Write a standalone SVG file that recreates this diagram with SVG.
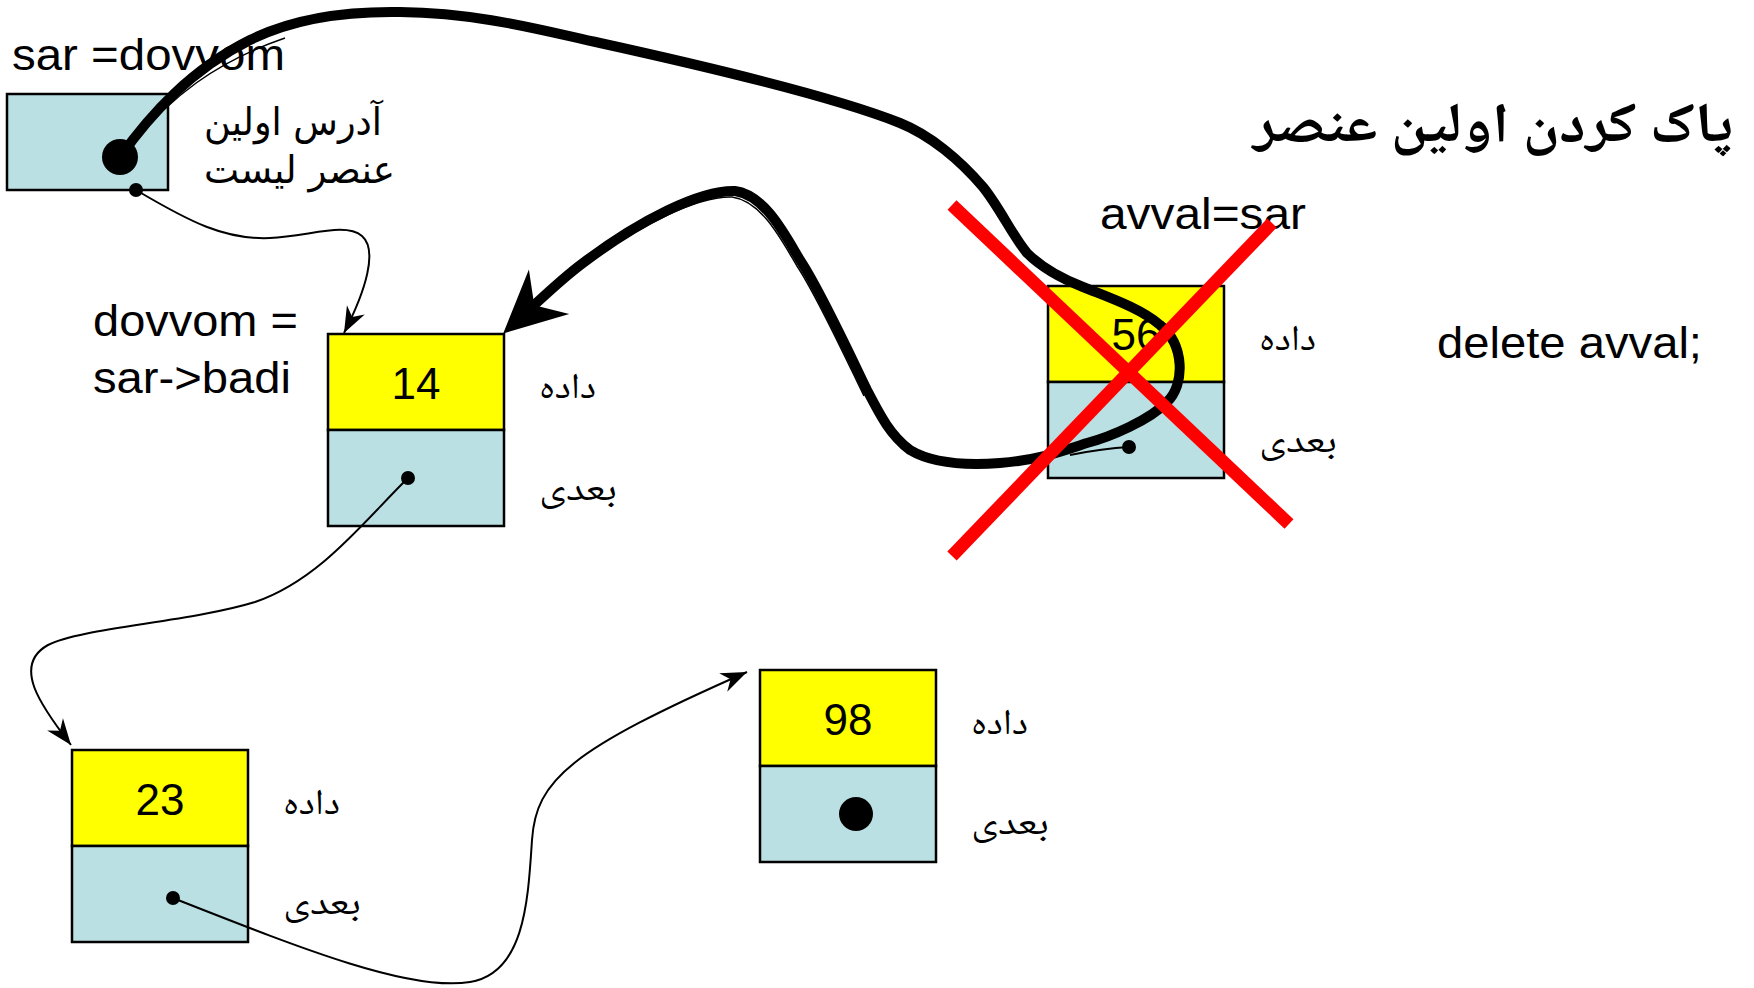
<svg xmlns="http://www.w3.org/2000/svg" width="1754" height="988" viewBox="0 0 1754 988">
<style>
.lat{font-family:"Liberation Sans",Arial,sans-serif;font-size:44px;fill:#000}
.num{font-family:"Liberation Sans",Arial,sans-serif;font-size:44px;fill:#000;text-anchor:middle}
.ar{font-family:"Noto Naskh Arabic","Noto Sans Arabic","DejaVu Sans",sans-serif;font-size:36px;fill:#000;text-anchor:end}
.arl{font-family:"DejaVu Sans",sans-serif;font-size:38px;fill:#000;text-anchor:end}
.title{font-family:"Noto Naskh Arabic","Noto Sans Arabic","DejaVu Sans",sans-serif;font-size:56px;font-weight:bold;fill:#000;text-anchor:end}
.data{fill:#FFFF00;stroke:#000;stroke-width:2.5}
.ptr{fill:#BAE0E3;stroke:#000;stroke-width:2.5}
.thin{fill:none;stroke:#000;stroke-width:2}
.hair{fill:none;stroke:#000;stroke-width:1.5}
.thick{fill:none;stroke:#000;stroke-width:10;stroke-linecap:round;stroke-linejoin:round}
.cross{stroke:#FF0000;stroke-width:13;stroke-linecap:butt}
</style>
<defs>
<marker id="ah" markerUnits="userSpaceOnUse" viewBox="-30 -15 32 30" refX="0" refY="0" markerWidth="32" markerHeight="30" orient="auto">
<path d="M0,0 L-26,-10 L-18,0 L-26,10 Z" fill="#000"/>
</marker>
<marker id="ahBig" markerUnits="userSpaceOnUse" viewBox="-60 -32 84 64" refX="0" refY="0" markerWidth="84" markerHeight="64" orient="auto">
<path d="M20,0 L-42,-30 L-22,0 L-42,30 Z" fill="#000"/>
</marker>
</defs>
<rect width="1754" height="988" fill="#fff"/>

<g id="title">
<text class="title" x="1733" y="142" textLength="480" lengthAdjust="spacingAndGlyphs">پاک کردن اولین عنصر</text>
</g>

<g id="sar">
<rect class="ptr" x="7" y="94" width="161" height="96"/>
<text class="lat" x="12" y="70" textLength="273" lengthAdjust="spacingAndGlyphs">sar =dovvom</text>
<text class="arl" x="382" y="135" textLength="178" lengthAdjust="spacingAndGlyphs">آدرس اولین</text>
<text class="arl" x="395" y="183" textLength="191" lengthAdjust="spacingAndGlyphs">عنصر لیست</text>
</g>

<g id="node14">
<rect class="data" x="328" y="334" width="176" height="96"/>
<rect class="ptr" x="328" y="430" width="176" height="96"/>
<text class="num" x="416" y="399">14</text>
<text class="ar" x="596" y="398" textLength="57" lengthAdjust="spacingAndGlyphs">داده</text>
<text class="ar" x="617" y="500" textLength="78" lengthAdjust="spacingAndGlyphs">بعدی</text>
<text class="lat" x="93" y="336" textLength="205" lengthAdjust="spacingAndGlyphs">dovvom =</text>
<text class="lat" x="93" y="393" textLength="198" lengthAdjust="spacingAndGlyphs">sar-&gt;badi</text>
</g>

<g id="node23">
<rect class="data" x="72" y="750" width="176" height="96"/>
<rect class="ptr" x="72" y="846" width="176" height="96"/>
<text class="num" x="160" y="815">23</text>
<text class="ar" x="340" y="814" textLength="57" lengthAdjust="spacingAndGlyphs">داده</text>
<text class="ar" x="361" y="914" textLength="78" lengthAdjust="spacingAndGlyphs">بعدی</text>
</g>

<g id="node98">
<rect class="data" x="760" y="670" width="176" height="96"/>
<rect class="ptr" x="760" y="766" width="176" height="96"/>
<text class="num" x="848" y="735">98</text>
<text class="ar" x="1028" y="734" textLength="57" lengthAdjust="spacingAndGlyphs">داده</text>
<text class="ar" x="1049" y="834" textLength="78" lengthAdjust="spacingAndGlyphs">بعدی</text>
<circle cx="856" cy="814" r="17" fill="#000"/>
</g>

<g id="node56">
<rect class="data" x="1048" y="286" width="176" height="96"/>
<rect class="ptr" x="1048" y="382" width="176" height="96"/>
<text class="num" x="1136" y="350">56</text>
<text class="ar" x="1316" y="350" textLength="57" lengthAdjust="spacingAndGlyphs">داده</text>
<text class="ar" x="1337" y="452" textLength="78" lengthAdjust="spacingAndGlyphs">بعدی</text>
<text class="lat" x="1100" y="229" textLength="206" lengthAdjust="spacingAndGlyphs">avval=sar</text>
</g>

<g id="code">
<text class="lat" x="1437" y="358" textLength="265" lengthAdjust="spacingAndGlyphs">delete avval;</text>
</g>

<g id="connectors">
<path class="thin" d="M136,190 C190,222 225,240 270,238 C310,236 345,222 362,236 C378,250 366,290 344,333" marker-end="url(#ah)"/>
<path class="thin" d="M408,478 C365,520 320,580 255,602 C190,622 80,628 48,645 C12,665 40,705 71,745" marker-end="url(#ah)"/>
<path class="thin" d="M173,898 C300,948 410,992 470,982 C525,973 528,900 532,840 C536,780 570,750 747,672" marker-end="url(#ah)"/>
<path class="thin" d="M1129,447 C1110,448 1090,451 1070,455"/>
<path class="hair" d="M132,144 C170,98 215,62 285,38"/>
<path class="hair" transform="translate(-3,6)" d="M867,390 C850,355 820,290 800,260 C785,235 765,195 735,191 C700,190 640,220 583,263"/>
<path class="hair" transform="translate(6,4)" d="M900,123 C930,135 960,160 983,187 C1000,208 1012,235 1027,253"/>
<circle cx="136" cy="190" r="7" fill="#000"/>
<circle cx="408" cy="478" r="7" fill="#000"/>
<circle cx="173" cy="898" r="7" fill="#000"/>
<circle cx="1129" cy="447" r="7" fill="#000"/>
<circle cx="120" cy="157" r="18" fill="#000"/>
<path class="thick" d="M120,157 C150,115 190,70 250,40 C290,20 340,11 400,12 C480,13 540,30 600,43 C700,65 830,95 900,123 C930,135 960,160 983,187 C1000,208 1012,235 1027,253 C1040,266 1060,278 1083,287 C1110,298 1140,308 1160,325 C1185,345 1185,385 1167,402 C1150,420 1110,437 1087,443 C1065,450 1040,460 1000,463 C960,466 930,462 910,450 C890,435 880,415 867,390 C850,355 820,290 800,260 C785,235 765,195 735,191 C700,190 640,220 583,263 C560,280 540,300 518,320" marker-end="url(#ahBig)"/>
</g>

<g id="cross">
<line class="cross" x1="952" y1="205" x2="1289" y2="524"/>
<line class="cross" x1="1272" y1="223" x2="952" y2="556"/>
</g>
</svg>
